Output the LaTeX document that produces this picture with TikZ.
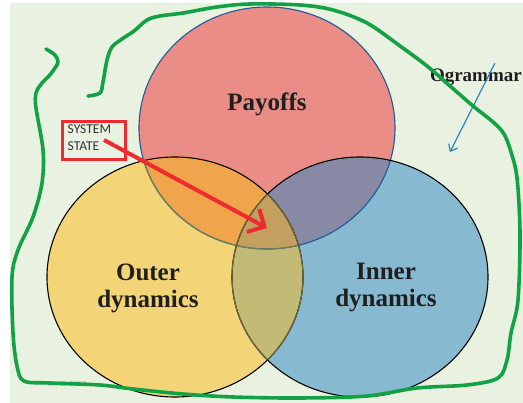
\documentclass[tikz,border=0pt]{standalone}
\usepackage{fontspec}
\setmainfont{Liberation Serif}
\setsansfont{Carlito}
\usetikzlibrary{arrows.meta}
\definecolor{bgreen}{HTML}{E9F1E0}
\definecolor{penGreen}{HTML}{12A244}
\definecolor{cPay}{HTML}{EA8D86}
\definecolor{cOut}{HTML}{F3D577}
\definecolor{cIn}{HTML}{87B9D1}
\definecolor{cPO}{HTML}{F0A54C}
\definecolor{cPI}{HTML}{8789A5}
\definecolor{cOI}{HTML}{C3BA76}
\definecolor{cPOI}{HTML}{C3A05F}
\definecolor{payEdge}{HTML}{1F5A96}
\definecolor{dimEdge}{HTML}{6E6A3C}
\definecolor{dimPay}{HTML}{6C7F5C}
\definecolor{boxRed}{HTML}{EE2B2F}
\definecolor{penBlue}{HTML}{1E7DC8}
\tikzset{
  setlabel/.style={font=\bfseries\fontsize{25}{27}\selectfont, text=black!88, align=center, inner sep=0pt},
  sidelabel/.style={font=\bfseries\fontsize{19}{21}\selectfont, text=black!88, inner sep=0pt},
  ringedge/.style={line width=1.1pt},
  statebox/.style={draw=boxRed, line width=3pt, minimum width=63pt, minimum height=38pt, inner sep=0pt},
  statetext/.style={font=\sffamily\fontsize{13.5}{17}\selectfont, text=black!80, align=left, inner sep=0pt},
  redarrow/.style={draw=boxRed, line width=4pt, -{Straight Barb[length=13pt, width=26pt, line width=4pt]}},
  bluearrow/.style={draw=penBlue, line width=1.1pt, -{Straight Barb[length=6pt, width=10pt, line width=1.1pt]}},
  outline/.style={draw=penGreen, line width=3.6pt, line cap=round, line join=round}
}
\def\circP{(267,128) ellipse [x radius=128, y radius=121]}
\def\circO{(175,277) ellipse [x radius=128, y radius=120]}
\def\circI{(360,277) ellipse [x radius=128, y radius=120]}
\begin{document}
\begin{tikzpicture}[x=1pt, y=-1pt]
\useasboundingbox (0,0) rectangle (523,403);
\fill[white] (0,0) rectangle (523,403);
\fill[bgreen] (10,3) rectangle (523,403);

% base discs
\fill[cPay] \circP;
\fill[cOut] \circO;
\fill[cIn] \circI;
% pairwise and triple overlaps
\begin{scope}
  \clip \circO;
  \fill[cOI] \circI;
\end{scope}
\begin{scope}
  \clip \circP;
  \fill[cPO] \circO;
  \fill[cPI] \circI;
  \clip \circO;
  \fill[cPOI] \circI;
\end{scope}

% outlines of the three sets
\draw[ringedge, payEdge] \circP;
\begin{scope}
  \clip \circO;
  \draw[ringedge, dimPay] \circP;
\end{scope}
\draw[ringedge, black] \circO;
\begin{scope}
  \clip \circI;
  \draw[ringedge, dimEdge] \circO;
\end{scope}
\draw[ringedge, black] \circI;
\begin{scope}
  \clip \circO;
  \draw[ringedge, dimEdge] \circI;
\end{scope}

% labels
\node[setlabel] (pay) at (267,104) {Payoffs};
\node[setlabel] (outer) at (148,288) {Outer\\dynamics};
\node[setlabel] (inner) at (386,288) {Inner\\dynamics};
\node[sidelabel, anchor=east] (ogr) at (522,77) {Ogrammar};

% system state box and arrow
\node[statebox] (sbox) at (93.5,141) {};
\node[statetext, anchor=north west] (stext) at (67.5,125) {SYSTEM\\STATE};
\coordinate (sfrom) at (104,140);
\coordinate (sto) at (267,228);
\draw[redarrow] (sfrom) -- (sto);

% hand-drawn blue pointer
\coordinate (bfrom) at (495,63);
\coordinate (bto) at (450,152);
\draw[bluearrow] (bfrom) -- (bto);

% date stamp
\node[font=\sffamily\fontsize{8}{9}\selectfont, text=black!28, inner sep=0pt] (date) at (67,384) {24/02/2023};

% hand-drawn green outline
\draw[outline] plot[smooth, tension=0.55] coordinates {
  (88,96) (100,93) (103,82) (107,60) (112,47) (122,39) (134,31) (147,20)
  (160,16) (183,13) (217,7) (250,4) (300,5) (333,10) (367,23) (400,46)
  (427,66) (450,86) (473,106) (493,122) (504,134) (511,152) (517,178)
  (520,233) (518,300) (511,333) (507,360) (498,378) (467,385) (417,388)
  (367,396) (300,398) (233,397) (183,394) (133,389) (100,385) (50,383)
  (24,381) (17,366) (13,333) (12,277) (18,250) (33,217) (42,183) (43,150)
  (36,108) (36,93) (42,83) (49,76) (55,68) (58,62) (55,55) (46,49)
};
\end{tikzpicture}
\end{document}
